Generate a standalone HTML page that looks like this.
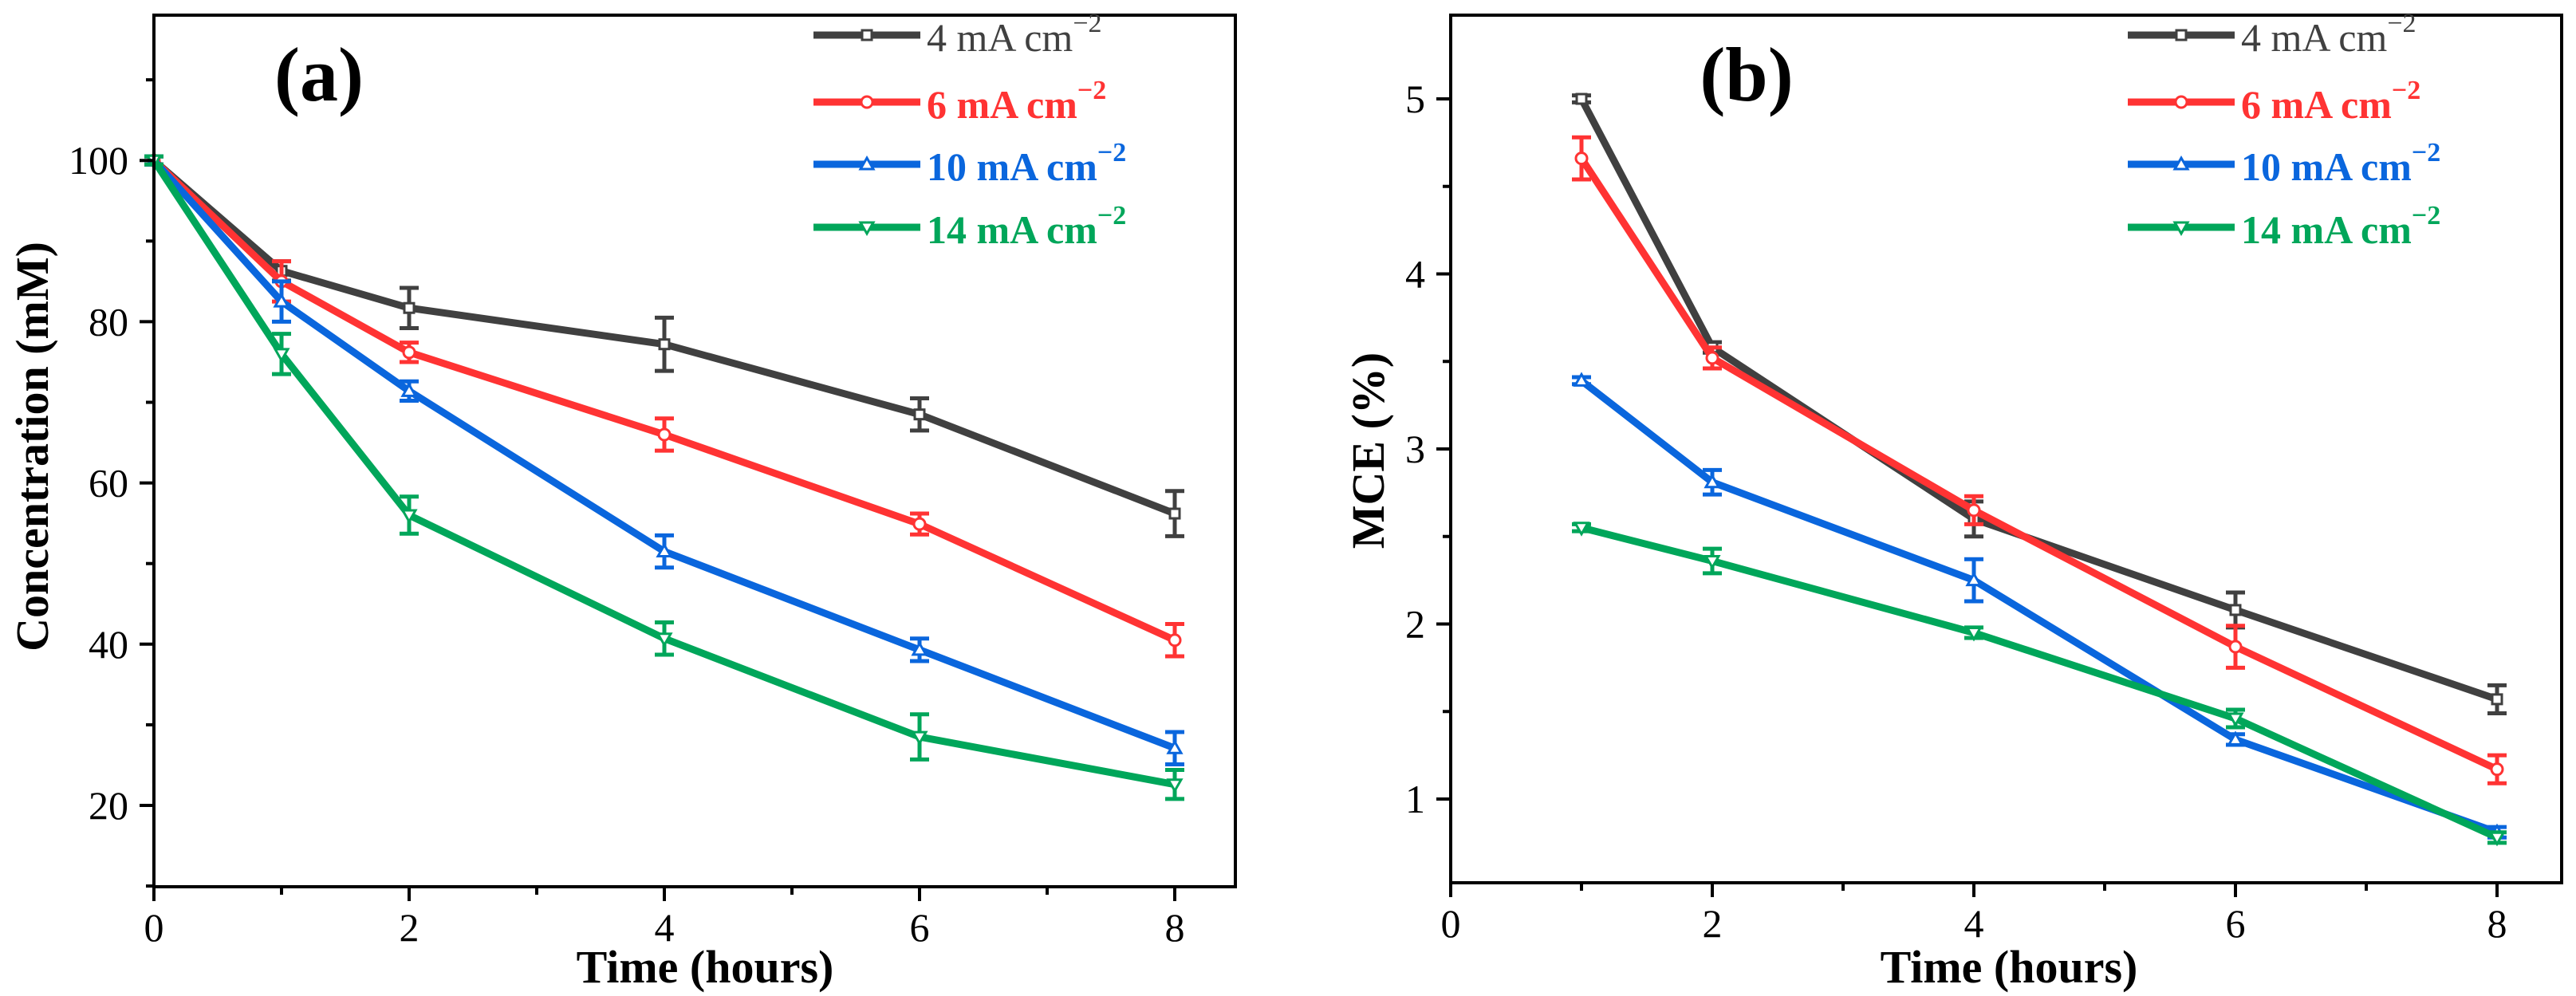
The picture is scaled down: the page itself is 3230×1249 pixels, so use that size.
<!DOCTYPE html>
<html><head><meta charset="utf-8"><style>
html,body{margin:0;padding:0;background:#fff}
svg{display:block}
text{font-family:"Liberation Serif",serif}
</style></head><body>
<svg id="chart" width="3230" height="1249" viewBox="0 0 3230 1249" xmlns="http://www.w3.org/2000/svg"></svg>
<script>
const seriesNames=["4 mA cm","6 mA cm","10 mA cm","14 mA cm"];
const seriesColors=["#404040","#ff3333","#0a66dd","#00a65a"];
const timeA=[0,1,2,4,6,8];
const concA4=[100,86.3,81.7,77.2,68.5,56.2];
const concA6=[100,85,76.2,66,54.9,40.5];
const concA10=[100,82.5,71.4,51.5,39.3,27.1];
const concA14=[100,76,56,40.7,28.5,22.6];
const errA4=[0.5,1.2,2.5,3.3,2,2.8];
const errA6=[0.5,2.5,1.2,2,1.3,2];
const errA10=[0.5,2.5,1.2,2,1.4,2];
const errA14=[0.5,2.5,2.3,2,2.8,1.8];
const timeB=[1,2,4,6,8];
const mceB4=[5.0,3.58,2.6,2.08,1.57];
const mceB6=[4.66,3.52,2.65,1.87,1.17];
const mceB10=[3.39,2.81,2.25,1.34,0.81];
const mceB14=[2.55,2.36,1.95,1.46,0.78];
const errB4=[0.02,0.03,0.1,0.1,0.08];
const errB6=[0.12,0.06,0.08,0.12,0.08];
const errB10=[0.02,0.07,0.12,0.03,0.03];
const errB14=[0.02,0.07,0.03,0.05,0.03];
const xTicks=[0,2,4,6,8];
const yTicksA=[20,40,60,80,100];
const yTicksB=[1,2,3,4,5];

const NS="http://www.w3.org/2000/svg";
const svg=document.getElementById('chart');
function mk(tag,attrs,parent){const e=document.createElementNS(NS,tag);for(const k in attrs)e.setAttribute(k,attrs[k]);(parent||svg).appendChild(e);return e;}
function marker(i,cx,cy,parent){
  const c=seriesColors[i];let m;
  if(i===0)m=mk('rect',{x:cx-6,y:cy-6,width:12,height:12,fill:'#fff',stroke:c,'stroke-width':3},parent);
  else if(i===1)m=mk('circle',{cx:cx,cy:cy,r:7,fill:'#fff',stroke:c,'stroke-width':3},parent);
  else if(i===2)m=mk('path',{d:`M${cx},${cy-8}L${cx+8},${cy+6}L${cx-8},${cy+6}Z`,fill:'#fff',stroke:c,'stroke-width':3},parent);
  else m=mk('path',{d:`M${cx},${cy+8}L${cx+8},${cy-6}L${cx-8},${cy-6}Z`,fill:'#fff',stroke:c,'stroke-width':3},parent);
  
  
}

function panel(cfg){
  const g=mk('g',{});
  
  
  const X=v=>cfg.x0+(v-cfg.xmin)*cfg.xs;
  const Y=v=>cfg.y0-(v-cfg.ymin)*cfg.ys;
  const L=cfg.left,R=cfg.right,T=cfg.top,B=cfg.bottom;
  cfg.series.forEach((s,i)=>{
    const sg=mk('g',{},g);
    
    
    const pts=s.x.map((xv,j)=>X(xv)+','+Y(s.y[j])).join(' ');
    const pl=mk('polyline',{points:pts,fill:'none',stroke:seriesColors[i],'stroke-width':9,'stroke-linejoin':'round'},sg);
    
    
    s.x.forEach((xv,j)=>{
      const cx=X(xv),cy=Y(s.y[j]),e=s.e[j]*cfg.ys;
      const eb=mk('path',{d:`M${cx},${cy-e}V${cy+e}M${cx-12},${cy-e}H${cx+12}M${cx-12},${cy+e}H${cx+12}`,stroke:seriesColors[i],'stroke-width':5,fill:'none'},sg);
      
      
      marker(i,cx,cy,sg);
    });
  });
  const fr=mk('rect',{x:L,y:T,width:R-L,height:B-T,fill:'none',stroke:'#000','stroke-width':4},g);
  
  
  for(let v=0;v<=8;v++){
    const x=X(v);
    mk('line',{x1:x,y1:B,x2:x,y2:B+(v%2?10:18),stroke:'#000','stroke-width':4},g);
  }
  xTicks.forEach(v=>{
    const t=mk('text',{x:X(v),y:B+68,'text-anchor':'middle','font-size':50},g);
    t.textContent=v;
    
    
  });
  for(let v=cfg.ymin;v<=cfg.ymax+1e-9;v+=cfg.minor){
    const y=Y(v);const major=cfg.yticks.some(t=>Math.abs(t-v)<1e-6);
    mk('line',{x1:L,y1:y,x2:L-(major?18:10),y2:y,stroke:'#000','stroke-width':4},g);
  }
  for(let v=cfg.ymin-cfg.minor;v>=cfg.ymin-3*cfg.minor;v-=cfg.minor){
    const y=Y(v); if(y<B) mk('line',{x1:L,y1:y,x2:L-10,y2:y,stroke:'#000','stroke-width':4},g);
  }
  cfg.yticks.forEach(v=>{
    const t=mk('text',{x:L-32,y:Y(v)+17,'text-anchor':'end','font-size':50},g);
    t.textContent=v;
    
    
  });
  const xt=mk('text',{x:cfg.xtitleX,y:1232,'text-anchor':'middle','font-size':58,'font-weight':'bold'},g);
  xt.textContent='Time (hours)';
  
  
  const yt=mk('text',{x:0,y:0,'text-anchor':'middle','font-size':58,'font-weight':'bold',transform:`translate(${cfg.ytitleX},${cfg.ytitleY}) rotate(-90)`},g);
  yt.textContent=cfg.ytitle;
  
  
  const pl=mk('text',{x:cfg.labelX,y:126,'text-anchor':'middle','font-size':96,'font-weight':'bold'},g);
  pl.textContent=cfg.label;
  
  
  const rows=[44,128,206,285];
  seriesNames.forEach((n,i)=>{
    const lg=mk('g',{},g);
    
    
    mk('line',{x1:cfg.legX,y1:rows[i],x2:cfg.legX+134,y2:rows[i],stroke:seriesColors[i],'stroke-width':9},lg);
    marker(i,cfg.legX+67,rows[i],lg);
    const t=mk('text',{x:cfg.legX+142,y:rows[i]+20,'font-size':50,fill:seriesColors[i],'font-weight':i?'bold':'normal'},lg);
    t.textContent=n;
    const s=mk('tspan',{dy:-24,'font-size':34},t);
    s.textContent='\u22122';
  });
}

panel({name:'panel-a-concentration',key:'a',label:'(a)',labelX:400,x0:193,xmin:0,xs:160,y0:1010,ymin:20,ys:10.11,ymax:115,minor:10,
  left:193,right:1549,top:19,bottom:1112,yticks:yTicksA,ytitle:'Concentration (mM)',ytitleX:60,ytitleY:560,xtitleX:884,legX:1020,
  series:[{x:timeA,y:concA4,e:errA4},{x:timeA,y:concA6,e:errA6},{x:timeA,y:concA10,e:errA10},{x:timeA,y:concA14,e:errA14}]});
panel({name:'panel-b-mce',key:'b',label:'(b)',labelX:2190,x0:1819,xmin:0,xs:164,y0:1002,ymin:1,ys:219.5,ymax:5.45,minor:0.5,
  left:1819,right:3212,top:19,bottom:1107,yticks:yTicksB,ytitle:'MCE (%)',ytitleX:1735,ytitleY:565,xtitleX:2519,legX:2668,
  series:[{x:timeB,y:mceB4,e:errB4},{x:timeB,y:mceB6,e:errB6},{x:timeB,y:mceB10,e:errB10},{x:timeB,y:mceB14,e:errB14}]});
</script>
</body></html>
